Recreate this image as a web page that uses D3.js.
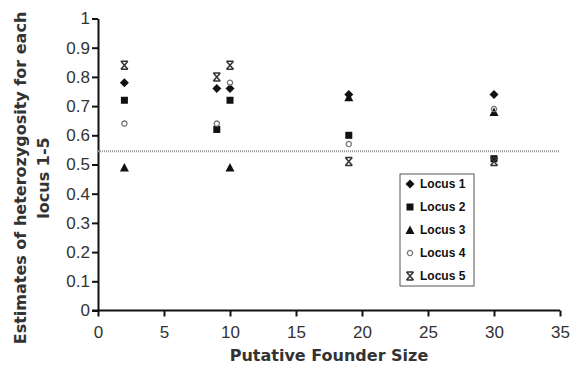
<!DOCTYPE html>
<html>
<head>
<meta charset="utf-8">
<script src="https://d3js.org/d3.v7.min.js"></script>
<style>
  body { margin: 0; background: #fff; }
  svg { font-family: "Liberation Sans", Arial, sans-serif; }
</style>
</head>
<body>
<script>
// founder sizes on x, heterozygosity per locus on y
var locusNames = ["Locus 1", "Locus 2", "Locus 3", "Locus 4", "Locus 5"];
var sizes1 = [2, 9, 10, 19, 30], locus1 = [0.78, 0.76, 0.76, 0.74, 0.74];
var sizes2 = [2, 9, 10, 19, 30], locus2 = [0.72, 0.62, 0.72, 0.60, 0.52];
var sizes3 = [2, 10, 19, 30],    locus3 = [0.49, 0.49, 0.73, 0.68];
var sizes4 = [2, 9, 10, 19, 30], locus4 = [0.64, 0.64, 0.78, 0.57, 0.69];
var sizes5 = [2, 9, 10, 19, 30], locus5 = [0.84, 0.80, 0.84, 0.51, 0.51];
var refLine = 0.545;
var xTicks = [0, 5, 10, 15, 20, 25, 30, 35];
var yTicks = [0, 0.1, 0.2, 0.3, 0.4, 0.5, 0.6, 0.7, 0.8, 0.9, 1];

var W = 570, H = 369;
var svg = d3.select("body").append("svg").attr("width", W).attr("height", H);

var x = d3.scaleLinear().domain([0, 35]).range([98, 560]);
var y = d3.scaleLinear().domain([0, 1]).range([310.5, 18.5]);

// axes
var xAxis = svg.append("g")
    .attr("transform", "translate(0," + y(0) + ")")
    .call(d3.axisBottom(x).tickValues(xTicks).tickSize(6).tickSizeOuter(0).tickFormat(d3.format("d")));
var yAxis = svg.append("g")
    .attr("transform", "translate(" + x(0) + ",0)")
    .call(d3.axisLeft(y).tickValues(yTicks).tickSize(6).tickSizeOuter(0).tickFormat(function (d) { return d === 0 || d === 1 ? d : d3.format(".1f")(d); }));

[xAxis, yAxis].forEach(function (a) {
  a.select(".domain").attr("stroke", "#111").attr("stroke-width", 2);
  a.selectAll(".tick line").attr("stroke", "#111").attr("stroke-width", 2);
  a.selectAll(".tick text").attr("fill", "#333").style("font-size", "17px");
});
xAxis.select(".domain").attr("d", "M" + (x(0) - 6) + ",0H" + x(35));
xAxis.selectAll(".tick text").attr("dy", "1.07em");
yAxis.selectAll(".tick text").attr("x", -8);

// dotted reference line
svg.append("line")
    .attr("x1", x(0)).attr("x2", x(35))
    .attr("y1", y(refLine)).attr("y2", y(refLine))
    .attr("stroke", "#999").attr("stroke-width", 2).attr("stroke-dasharray", "1,1");

// markers
function drawMarker(g, type) {
  if (type === 0) {
    g.append("path").attr("d", "M0,-4.5L4.5,0L0,4.5L-4.5,0Z").attr("fill", "#111");
  } else if (type === 1) {
    g.append("rect").attr("x", -3.5).attr("y", -3.5).attr("width", 7).attr("height", 7).attr("fill", "#111");
  } else if (type === 2) {
    g.append("path").attr("d", "M0,-4.5L4.5,4L-4.5,4Z").attr("fill", "#111");
  } else if (type === 3) {
    g.append("circle").attr("r", 2.6).attr("fill", "none").attr("stroke", "#777").attr("stroke-width", 1.3);
  } else {
    g.append("path").attr("d", "M-3.5,-4L3.5,4M3.5,-4L-3.5,4M-3.5,-4H3.5M-3.5,4H3.5")
      .attr("stroke", "#333").attr("stroke-width", 1.5).attr("fill", "none");
  }
}

var series = [[sizes1, locus1], [sizes2, locus2], [sizes3, locus3], [sizes4, locus4], [sizes5, locus5]];
series.forEach(function (s, k) {
  var pts = s[0].map(function (v, i) { return { x: v, y: s[1][i] }; });
  svg.append("g").selectAll("g")
    .data(pts)
    .enter().append("g")
    .attr("transform", function (d) { return "translate(" + x(d.x) + "," + y(d.y) + ")"; })
    .each(function () { drawMarker(d3.select(this), k); });
});

// legend
var legend = svg.append("g").attr("transform", "translate(400,174)");
legend.append("rect").attr("width", 74).attr("height", 112)
    .attr("fill", "#fff").attr("stroke", "#555").attr("stroke-width", 1);
locusNames.forEach(function (name, i) {
  var row = legend.append("g").attr("transform", "translate(10," + (10 + i * 23) + ")");
  drawMarker(row, i);
  row.append("text").attr("x", 10).attr("dy", "0.36em")
    .style("font-size", "12px").style("font-weight", "bold").attr("fill", "#111")
    .text(name);
});

// axis titles
svg.append("text")
    .attr("x", x(17.5)).attr("y", 361)
    .attr("text-anchor", "middle")
    .style("font-family", "'DejaVu Sans', sans-serif")
    .style("font-size", "16px").style("font-weight", "bold").attr("fill", "#333")
    .text("Putative Founder Size");

var yt = svg.append("text")
    .attr("transform", "translate(26,178) rotate(-90)")
    .attr("text-anchor", "middle")
    .style("font-family", "'DejaVu Sans', sans-serif")
    .style("font-size", "16px").style("font-weight", "bold").attr("fill", "#333");
yt.append("tspan").attr("x", 0).attr("dy", 0).text("Estimates of heterozygosity for each");
yt.append("tspan").attr("x", 0).attr("dy", "1.45em").text("locus 1-5");
</script>
</body>
</html>
